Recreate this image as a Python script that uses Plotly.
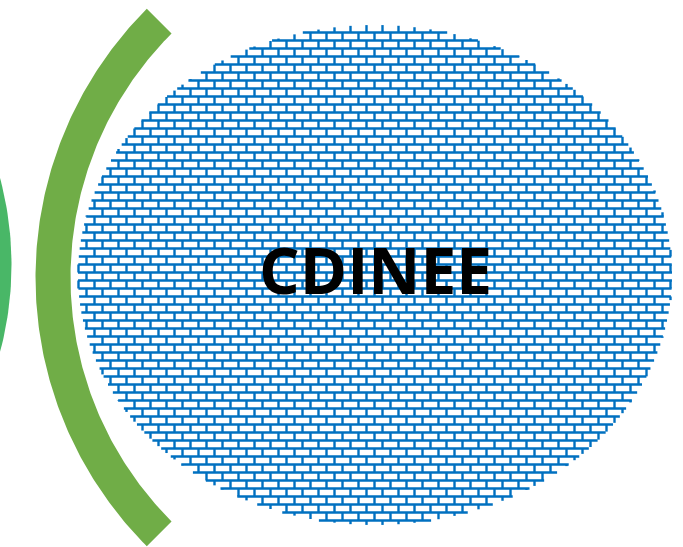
import numpy as np
import plotly.graph_objects as go

# ---- content ----
labels = ["CDINEE"]
shape_names = ["left circle", "arc", "brick ellipse"]
colors = ["#49B767", "#70AD47", "#0070C0"]

# geometry (pixel space, y down)
ellipse_center = [375.0, 275.0]
ellipse_radii = [297.0, 250.0]
arc_center = [415.5, 277.5]
arc_radius = [345.0, 380.0]          # inner, outer
arc_angles = [135.0, 225.0]          # degrees
left_circle_center = [-325.5, 265.0]
left_circle_radius = [337.0]
brick_pitch = [16.0, 8.0]            # brick width, row height
brick_origin = [6.5, 0.5]

W, H = 683, 547
fig = go.Figure()

# left partial circle
t = np.linspace(0, 2 * np.pi, 400)
fig.add_trace(go.Scatter(
    x=left_circle_center[0] + left_circle_radius[0] * np.cos(t),
    y=left_circle_center[1] + left_circle_radius[0] * np.sin(t),
    mode="lines", fill="toself", fillcolor=colors[0],
    line=dict(width=0, color=colors[0]), hoverinfo="skip", showlegend=False))

# thick arc
a = np.radians(np.linspace(arc_angles[0], arc_angles[1], 200))
ri, ro = arc_radius
ax = np.concatenate([arc_center[0] + ro * np.cos(a), arc_center[0] + ri * np.cos(a[::-1])])
ay = np.concatenate([arc_center[1] - ro * np.sin(a), arc_center[1] - ri * np.sin(a[::-1])])
fig.add_trace(go.Scatter(x=np.append(ax, ax[0]), y=np.append(ay, ay[0]),
                         mode="lines", fill="toself", fillcolor=colors[1],
                         line=dict(width=0, color=colors[1]),
                         hoverinfo="skip", showlegend=False))

# brick pattern clipped to ellipse
cx, cy = ellipse_center
rx, ry = ellipse_radii
bw, bh = brick_pitch
x0, y0 = brick_origin
xs, ys = [], []
ks = range(int((cy - ry - y0) // bh) - 1, int((cy + ry - y0) // bh) + 2)
for k in ks:
    y = y0 + bh * k
    d = 1 - ((y - cy) / ry) ** 2
    if d > 0:
        hw = rx * np.sqrt(d)
        xs += [cx - hw, cx + hw, None]
        ys += [y, y, None]
for k in ks:
    ya, yb = y0 + bh * k, y0 + bh * (k + 1)
    off = x0 + (bw / 2) * (k % 2)
    m0 = int((cx - rx - off) // bw) - 1
    m1 = int((cx + rx - off) // bw) + 2
    for m in range(m0, m1):
        x = off + bw * m
        d = 1 - ((x - cx) / rx) ** 2
        if d <= 0:
            continue
        hh = ry * np.sqrt(d)
        lo, hi = max(ya, cy - hh), min(yb, cy + hh)
        if hi > lo:
            xs += [x, x, None]
            ys += [lo, hi, None]
fig.add_trace(go.Scatter(x=xs, y=ys, mode="lines",
                         line=dict(width=2.4, color=colors[2]),
                         hoverinfo="skip", showlegend=False))

fig.add_annotation(x=cx, y=269.5, text="<b>%s</b>" % labels[0], showarrow=False,
                   xanchor="center", yanchor="middle",
                   font=dict(family="Open Sans", size=64, color="#000000"))

fig.update_layout(width=W, height=H, autosize=False,
                  margin=dict(l=0, r=0, t=0, b=0),
                  paper_bgcolor="white", plot_bgcolor="white",
                  xaxis=dict(range=[0, W], visible=False, fixedrange=True),
                  yaxis=dict(range=[H, 0], visible=False, fixedrange=True))
fig.write_html("out.html", config={"displayModeBar": False},
               post_script="document.body.style.margin='0';")
